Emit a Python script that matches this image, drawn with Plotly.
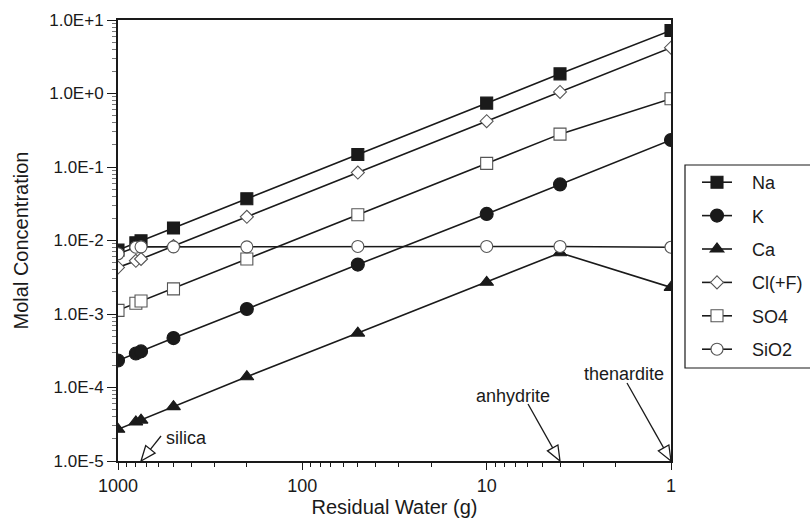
import math
import plotly.graph_objects as go

# Residual water (g) at each evaporation step
water = [1000, 800, 750, 500, 200, 50, 10, 4, 1]

# Molal concentrations
na = [0.0074, 0.0093, 0.0099, 0.0148, 0.037, 0.148, 0.74, 1.85, 7.2]
k = [0.000233, 0.00029, 0.00031, 0.00047, 0.00117, 0.0047, 0.023, 0.058, 0.233]
ca = [2.7e-5, 3.4e-5, 3.6e-5, 5.5e-5, 0.00014, 0.00055, 0.0027, 0.0068, 0.0023]
cl = [0.0043, 0.0053, 0.0056, 0.0084, 0.021, 0.084, 0.42, 1.05, 4.2]
so4 = [0.00112, 0.0014, 0.0015, 0.0022, 0.0056, 0.0224, 0.112, 0.28, 0.85]
sio2 = [0.0066, 0.0081, 0.0082, 0.0082, 0.0082, 0.0083, 0.0083, 0.0083, 0.0081]

# Axis ticks
x_ticks = [1000, 100, 10, 1]
x_ticklabels = ["1000", "100", "10", "1"]
y_ticks = [10.0, 1.0, 0.1, 0.01, 0.001, 0.0001, 0.00001]
y_ticklabels = ["1.0E+1", "1.0E+0", "1.0E-1", "1.0E-2", "1.0E-3", "1.0E-4", "1.0E-5"]

# Mineral saturation markers: (label, residual water at onset)
minerals = [("silica", 750), ("anhydrite", 4), ("thenardite", 1)]

FONT = "Liberation Sans, Arial, sans-serif"
INK = "#1a1a1a"
OPEN = "#555555"

# name, values, symbol, fill, size, outline
series = [
    ("Na", na, "square", INK, 12, INK),
    ("K", k, "circle", INK, 13, INK),
    ("Ca", ca, "triangle-up", INK, 12, INK),
    ("Cl(+F)", cl, "diamond", "white", 10, OPEN),
    ("SO4", so4, "square", "white", 12, OPEN),
    ("SiO2", sio2, "circle", "white", 12, OPEN),
]

X_RANGE = (3, 0)      # log10 of residual water, reversed
Y_RANGE = (-5, 1)     # log10 of molality
PLOT_W, PLOT_H = 553, 441
MARGIN = dict(l=118, r=139, t=20, b=63, autoexpand=False)

fig = go.Figure()
for name, vals, sym, fill, size, outline in series:
    fig.add_trace(go.Scatter(
        x=water, y=vals, name="\u00a0\u00a0\u00a0" + name, mode="lines+markers",
        legendgroup=name,
        line=dict(color=INK, width=1.6),
        marker=dict(symbol=sym, size=size, color=fill,
                    line=dict(color=outline, width=1.1)),
    ))


def paper_x(w):
    return (math.log10(w) - X_RANGE[0]) / (X_RANGE[1] - X_RANGE[0])


# open-headed arrows pointing at the x axis, with their labels
arrow_geom = {
    # line start offset from tip (px, y up), label centre offset from tip (px, y up)
    "silica": ((20, 25), (45, 23)),
    "anhydrite": ((-32, 57), (-47, 65)),
    "thenardite": ((-44, 78), (-47, 87)),
}
shapes = []
annotations = []
for label, w in minerals:
    (sx, sy), (tx, ty) = arrow_geom[label]
    x_tip = paper_x(w)
    length = math.hypot(sx, sy)
    ux, uy = -sx / length, -sy / length  # unit vector toward tip
    head_len, half_w = 15, 6
    bx, by = -ux * head_len, -uy * head_len
    px, py = -uy * half_w, ux * half_w

    def P(dx, dy):
        return x_tip + dx / PLOT_W, dy / PLOT_H

    x0, y0 = P(sx, sy)
    x1, y1 = P(bx, by)
    shapes.append(dict(type="line", xref="paper", yref="paper",
                       x0=x0, y0=y0, x1=x1, y1=y1,
                       line=dict(color=INK, width=1.3), layer="above"))
    pts = [P(0, 0), P(bx + px, by + py), P(bx - px, by - py)]
    path = "M " + " L ".join(f"{a:.5f},{b:.5f}" for a, b in pts) + " Z"
    shapes.append(dict(type="path", xref="paper", yref="paper", path=path,
                       fillcolor="white", line=dict(color=INK, width=1.3),
                       layer="above"))
    annotations.append(dict(x=math.log10(w), y=0, xref="x", yref="paper",
                            xanchor="center", yanchor="middle",
                            text=label, showarrow=False, xshift=tx, yshift=ty,
                            font=dict(family=FONT, size=18, color=INK)))

# legend frame (runs off the right edge)
shapes.append(dict(type="rect", xref="paper", yref="paper",
                   x0=(685 - 118) / PLOT_W, x1=1.5,
                   y0=(461 - 368) / PLOT_H, y1=(461 - 165) / PLOT_H,
                   line=dict(color=INK, width=1.2), fillcolor="rgba(0,0,0,0)"))

minor_x = [m * d for d in (1, 10, 100) for m in range(2, 10)]
minor_y = [m * 10.0 ** e for e in range(-5, 1) for m in range(2, 10)]

fig.update_layout(
    width=810, height=524,
    margin=MARGIN,
    paper_bgcolor="white", plot_bgcolor="white",
    font=dict(family=FONT, size=17, color=INK),
    shapes=shapes, annotations=annotations,
    legend=dict(x=(697 - 118) / PLOT_W, y=(461 - 164) / PLOT_H, xanchor="left", yanchor="top",
                bgcolor="rgba(0,0,0,0)", borderwidth=0,
                font=dict(family=FONT, size=18, color=INK),
                tracegroupgap=7, itemwidth=30),
    xaxis=dict(
        type="log", range=list(X_RANGE),
        title=dict(text="Residual Water (g)", font=dict(size=20), standoff=5),
        tickmode="array", tickvals=x_ticks, ticktext=x_ticklabels,
        tickfont=dict(size=18),
        ticks="outside", ticklen=7, tickwidth=1.2, tickcolor=INK,
        minor=dict(tickmode="array", tickvals=minor_x, ticks="outside", ticklen=4,
                   tickwidth=1, tickcolor=INK),
        showgrid=False, zeroline=False,
        showline=True, linecolor=INK, linewidth=2, mirror=True,
    ),
    yaxis=dict(
        type="log", range=list(Y_RANGE),
        title=dict(text="Molal Concentration", font=dict(size=20), standoff=15),
        tickmode="array", tickvals=y_ticks, ticktext=y_ticklabels,
        tickfont=dict(size=17),
        ticks="outside", ticklen=9, tickwidth=1.2, tickcolor=INK,
        minor=dict(tickmode="array", tickvals=minor_y, ticks="outside", ticklen=4,
                   tickwidth=1, tickcolor="#777777"),
        showgrid=False, zeroline=False,
        showline=True, linecolor=INK, linewidth=2, mirror=True,
    ),
)

fig.write_html("out.html")
